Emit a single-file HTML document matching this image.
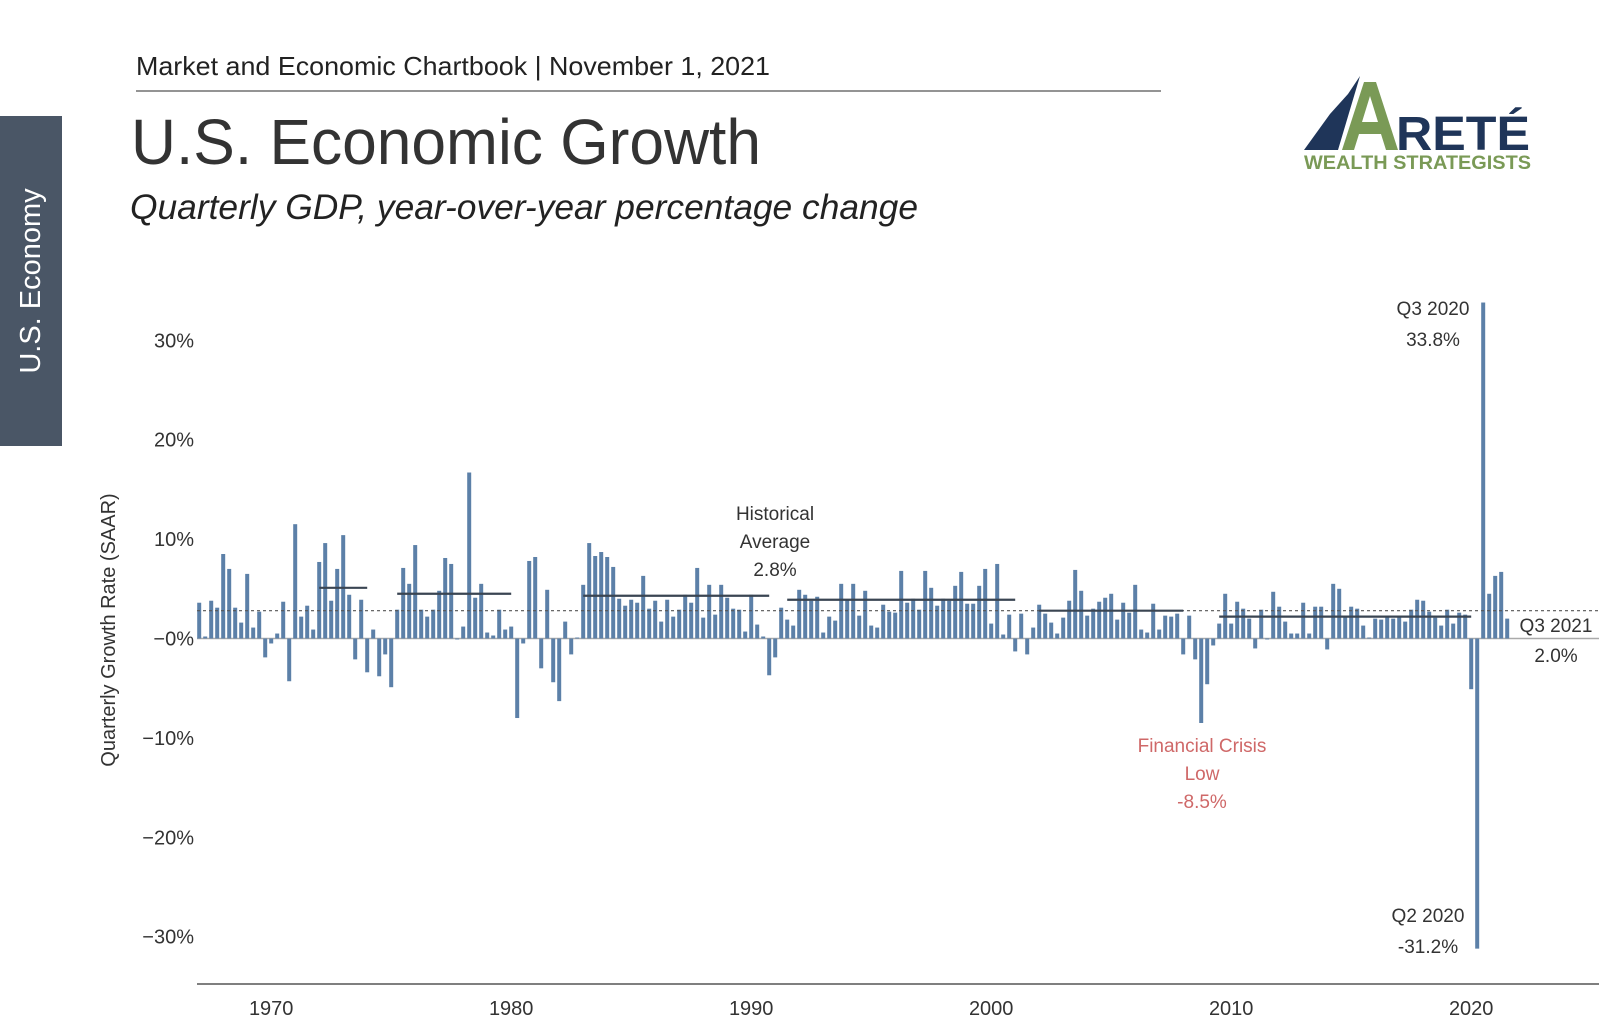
<!DOCTYPE html>
<html><head><meta charset="utf-8"><style>
html,body{margin:0;padding:0;background:#fff;}
body{width:1620px;height:1034px;position:relative;overflow:hidden;font-family:"Liberation Sans",sans-serif;}
</style></head><body>
<svg id="chart" width="1620" height="1034" xmlns="http://www.w3.org/2000/svg" style="position:absolute;left:0;top:0">
  <text x="136" y="75" font-size="26" fill="#222" textLength="634" lengthAdjust="spacingAndGlyphs">Market and Economic Chartbook | November 1, 2021</text>
  <line x1="136" y1="91" x2="1161" y2="91" stroke="#555" stroke-width="1.2"/>
  <text x="131" y="164" font-size="64" fill="#333" textLength="630" lengthAdjust="spacingAndGlyphs">U.S. Economic Growth</text>
  <text x="130" y="219" font-size="35" font-style="italic" fill="#222" textLength="788" lengthAdjust="spacingAndGlyphs">Quarterly GDP, year-over-year percentage change</text>
  <rect x="0" y="116" width="62" height="330" fill="#4a5666"/>
  <text transform="translate(40,281) rotate(-90)" text-anchor="middle" font-size="29" fill="#fff">U.S. Economy</text>
  <g>
    <path d="M1304 150 L1330 114 L1348 94 L1360 76 L1338 150 Z" fill="#1f3559"/>
    <path d="M1342 150 L1364 82 L1376 82 L1398 150 L1386 150 L1381 134 L1359 134 L1354 150 Z M1362 122 L1378 122 L1370 96 Z" fill="#7a9a56" fill-rule="evenodd"/>
    <text x="1396" y="150" font-size="48" font-weight="bold" fill="#1f3559" textLength="134" lengthAdjust="spacingAndGlyphs">RETÉ</text>
    <text x="1304" y="169" font-size="19" font-weight="bold" fill="#7a9a56" textLength="227" lengthAdjust="spacingAndGlyphs">WEALTH STRATEGISTS</text>
  </g>
  <text transform="translate(115,630) rotate(-90)" text-anchor="middle" font-size="20" fill="#333">Quarterly Growth Rate (SAAR)</text>
  <g id="yticks"></g><g id="xticks"></g><g id="bars"></g><g id="avgs"></g>
  <g font-size="19" fill="#333" text-anchor="middle">
    <text x="775" y="520">Historical</text><text x="775" y="548">Average</text><text x="775" y="576">2.8%</text>
    <text x="1433" y="315">Q3 2020</text><text x="1433" y="346">33.8%</text>
    <text x="1428" y="922">Q2 2020</text><text x="1428" y="953">-31.2%</text>
    <text x="1556" y="632">Q3 2021</text><text x="1556" y="662">2.0%</text>
    <g fill="#cf6868"><text x="1202" y="752">Financial Crisis</text><text x="1202" y="780">Low</text><text x="1202" y="808">-8.5%</text></g>
  </g>
</svg>
<script>
const startYear = 1967;
const growth = [
3.6,0.2,3.8,3.1, 8.5,7.0,3.1,1.6, 6.5,1.1,2.7,-1.9, -0.5,0.5,3.7,-4.3,
11.5,2.2,3.3,0.9, 7.7,9.6,3.8,7.0, 10.4,4.4,-2.1,3.9, -3.4,0.9,-3.8,-1.6,
-4.9,2.9,7.1,5.5, 9.4,2.9,2.2,2.9, 4.8,8.1,7.5,0.0, 1.2,16.7,4.1,5.5,
0.6,0.3,2.9,0.9, 1.2,-8.0,-0.5,7.8, 8.2,-3.0,4.9,-4.4, -6.3,1.7,-1.6,0.1,
5.4,9.6,8.3,8.7, 8.2,7.2,4.0,3.3, 3.9,3.6,6.3,3.0, 3.8,1.7,3.9,2.2,
2.9,4.4,3.6,7.1, 2.1,5.4,2.4,5.4, 4.1,3.0,2.9,0.7, 4.4,1.4,0.2,-3.7,
-1.9,3.1,1.9,1.3, 4.9,4.4,3.8,4.2, 0.6,2.2,1.8,5.5, 3.9,5.5,2.3,4.8,
1.3,1.1,3.4,2.7, 2.6,6.8,3.6,4.0, 2.9,6.8,5.1,3.3, 4.0,3.8,5.3,6.7,
3.5,3.5,5.3,7.0, 1.5,7.5,0.4,2.4, -1.3,2.5,-1.6,1.1, 3.4,2.5,1.6,0.5,
2.1,3.8,6.9,4.8, 2.3,3.0,3.7,4.1, 4.5,1.9,3.6,2.6, 5.4,0.9,0.6,3.5,
0.9,2.3,2.2,2.5, -1.6,2.3,-2.1,-8.5, -4.6,-0.7,1.5,4.5, 1.5,3.7,3.0,2.0,
-1.0,2.9,-0.1,4.7, 3.2,1.7,0.5,0.5, 3.6,0.5,3.2,3.2, -1.1,5.5,5.0,2.3,
3.2,3.0,1.3,0.1, 2.0,1.9,2.2,2.0, 2.3,1.7,2.9,3.9, 3.8,2.7,2.1,1.3,
2.9,1.5,2.6,2.4, -5.1,-31.2,33.8,4.5, 6.3,6.7,2.0
];
const avgStart = [1972.0, 1975.25, 1983.0, 1991.5, 2002.0, 2009.5];
const avgEnd = [1974.0, 1980.0, 1990.75, 2001.0, 2008.0, 2020.0];
const avgValue = [5.1, 4.5, 4.3, 3.9, 2.8, 2.2];
const historicalAvg = 2.8;
const yTickValues = [30, 20, 10, 0, -10, -20, -30];
const yTickLabels = ["30%", "20%", "10%", "\u22120%", "\u221210%", "\u221220%", "\u221230%"];
const xTickYears = [1970, 1980, 1990, 2000, 2010, 2020];

const NS = "http://www.w3.org/2000/svg";
const X = t => 271.2 + (t - 1970) * 24;
const Y = v => 638.5 - v * 9.94;
function mk(tag, attrs, parent){const e=document.createElementNS(NS,tag);for(const k in attrs)e.setAttribute(k,attrs[k]);parent.appendChild(e);return e;}

const yt = document.getElementById('yticks');
yTickValues.forEach((v,i)=>{
  const t = mk('text',{x:194,y:Y(v)+7,'text-anchor':'end','font-size':20,fill:'#333'},yt);
  t.textContent = yTickLabels[i];
  
  
});
const xt = document.getElementById('xticks');
xTickYears.forEach(yr=>{
  const t = mk('text',{x:X(yr),y:1015,'text-anchor':'middle','font-size':20,fill:'#333'},xt);
  t.textContent = yr;
  
  
});
const axis = mk('line',{x1:197,y1:984,x2:1599,y2:984,stroke:'#555','stroke-width':1.5},xt);



const bg = document.getElementById('bars');
const zl = mk('line',{x1:197,y1:Y(0),x2:1599,y2:Y(0),stroke:'#aaa','stroke-width':1.5},bg);


growth.forEach((v,i)=>{
  const t = startYear + i/4;
  const y0 = Y(0), y1 = Y(v);
  const r = mk('rect',{x:X(t)-2,y:Math.min(y0,y1),width:4,height:Math.max(1,Math.abs(y1-y0)),fill:'#5c80a8'},bg);
  
  
});
const ag = document.getElementById('avgs');
const hl = mk('line',{x1:197,y1:Y(historicalAvg),x2:1599,y2:Y(historicalAvg),stroke:'#555','stroke-width':1.2,'stroke-dasharray':'3,3'},ag);


avgValue.forEach((v,i)=>{
  const l = mk('line',{x1:X(avgStart[i]),y1:Y(v),x2:X(avgEnd[i]),y2:Y(v),stroke:'#3a4552','stroke-width':2.2},ag);
  
  
});
</script>
</body></html>
